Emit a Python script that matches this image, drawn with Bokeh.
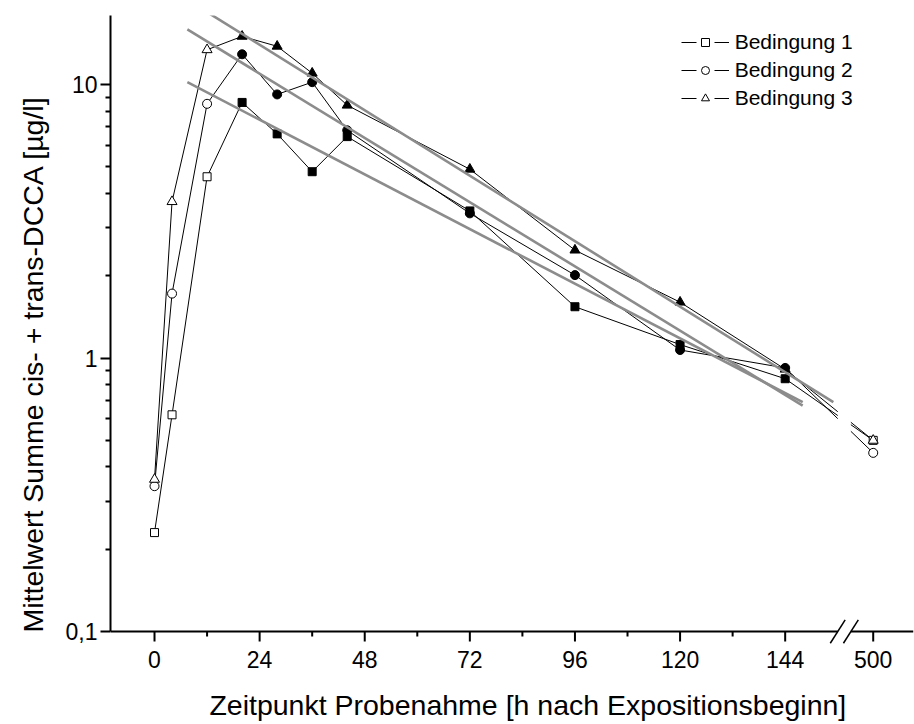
import numpy as np
from bokeh.plotting import figure
from bokeh.models import Range1d, FixedTicker, Legend, LegendItem, Title, ColumnDataSource
from bokeh.embed import file_html
from bokeh.resources import INLINE

FONT = "Liberation Sans"

# ---------------- data ----------------
hours = [0, 4, 12, 20, 28, 36, 44, 72, 96, 120, 144, 500]
cond1 = [0.23, 0.62, 4.6, 8.6, 6.6, 4.8, 6.45, 3.45, 1.54, 1.12, 0.84, 0.50]
cond2 = [0.34, 1.72, 8.5, 12.9, 9.2, 10.2, 6.8, 3.38, 2.01, 1.07, 0.92, 0.45]
cond3 = [0.36, 3.73, 13.4, 15.0, 13.8, 11.0, 8.4, 4.9, 2.48, 1.60, 0.91, 0.50]
series_names = ["Bedingung 1", "Bedingung 2", "Bedingung 3"]
series_markers = ["square", "circle", "triangle"]
open_hours = [0, 4, 12, 500]          # hollow markers (not part of the fit)

# regression lines (start / end hour, start / end value)
fit_h0 = [7.5, 7.5, 7.5]
fit_h1 = [148, 148, 155]
fit_v0 = [10.2, 15.9, 20.4]
fit_v1 = [0.69, 0.67, 0.69]

x_major = [0, 24, 48, 72, 96, 120, 144, 500]
x_minor = [12, 36, 60, 84, 108, 132]
y_major = [0.1, 1, 10]
y_major_labels = ["0,1", "1", "10"]
y_minor = [0.2, 0.3, 0.4, 0.5, 0.6, 0.7, 0.8, 0.9, 2, 3, 4, 5, 6, 7, 8, 9]

x_title = "Zeitpunkt Probenahme [h nach Expositionsbeginn]"
y_title = "Mittelwert Summe cis- + trans-DCCA [\u00b5g/l]"

# ---------------- axis break ----------------
LAST_LINEAR_H = 144
POS_AFTER_BREAK = 164.1       # where the 500 h column sits on the broken axis
BREAK_LO, BREAK_HI = 156.0, 159.0
SLASH_DX = 1.7                # half width of a break slash (h units)
SLASH_PX = 11.7               # half height of a break slash (pixels)


def xpos(h):
    return h if h <= LAST_LINEAR_H else POS_AFTER_BREAK


# ---------------- geometry ----------------
W, H = 914, 724
BORDER_L, BORDER_R, BORDER_T, BORDER_B = 110, 1, 15, 79
FRAME_H = H - BORDER_T - BORDER_B
X0, X1 = -10.05, 173.3
Y0, Y1 = 0.0889, 17.88
DEC_PER_PX = np.log10(Y1 / Y0) / FRAME_H
Y_AX = y_major[0]
X_TITLE_PAD = "\u00a0" * 4    # nudges the centred x title to the right


def y_below(px):
    return Y_AX * 10 ** (-px * DEC_PER_PX)


p = figure(width=W, height=H, x_range=Range1d(X0, X1), y_range=Range1d(Y0, Y1),
           y_axis_type="log", output_backend="svg", toolbar_location=None,
           min_border_left=BORDER_L, min_border_right=BORDER_R,
           min_border_top=BORDER_T, min_border_bottom=BORDER_B)
p.outline_line_color = None
p.xgrid.visible = False
p.ygrid.visible = False
p.background_fill_color = "white"
p.border_fill_color = "white"

# ---- y axis ----
ya = p.yaxis[0]
ya.ticker = FixedTicker(ticks=y_major, minor_ticks=y_minor)
ya.major_label_overrides = dict(zip(y_major, y_major_labels))
ya.bounds = (Y_AX, Y1)
ya.axis_line_width = 2
ya.axis_line_color = "black"
ya.major_tick_line_width = 2
ya.minor_tick_line_width = 2
ya.major_tick_line_color = "black"
ya.minor_tick_line_color = "black"
ya.major_tick_out = 10
ya.major_tick_in = 0
ya.minor_tick_out = 5
ya.minor_tick_in = 0
ya.major_label_standoff = 3
ya.major_label_text_font = FONT
ya.major_label_text_font_size = "23px"
ya.major_label_text_color = "black"

# ---- x axis: labels + title from bokeh, line / ticks drawn on the broken axis ----
xa = p.xaxis[0]
xa.ticker = FixedTicker(ticks=[xpos(h) for h in x_major], minor_ticks=[])
xa.major_label_overrides = {xpos(h): str(h) for h in x_major}
xa.axis_line_color = None
xa.major_tick_line_color = None
xa.minor_tick_line_color = None
xa.major_tick_out = 0
xa.major_tick_in = 0
xa.minor_tick_out = 0
xa.minor_tick_in = 0
xa.major_label_standoff = 5
xa.major_label_text_font = FONT
xa.major_label_text_font_size = "23px"
xa.major_label_text_color = "black"
xa.axis_label = X_TITLE_PAD + x_title
xa.axis_label_text_font = FONT
xa.axis_label_text_font_size = "28.5px"
xa.axis_label_text_font_style = "normal"
xa.axis_label_text_color = "black"
xa.axis_label_standoff = 18

# axis line with gap
p.segment(x0=[X0, BREAK_HI], y0=[Y_AX, Y_AX], x1=[BREAK_LO, X1], y1=[Y_AX, Y_AX],
          line_color="black", line_width=2)
# ticks
maj_x = [xpos(h) for h in x_major]
p.segment(x0=maj_x, y0=[Y_AX] * len(maj_x), x1=maj_x, y1=[y_below(10)] * len(maj_x),
          line_color="black", line_width=2)
p.segment(x0=x_minor, y0=[Y_AX] * len(x_minor), x1=x_minor, y1=[y_below(5)] * len(x_minor),
          line_color="black", line_width=2)

# ---- data lines ----
all_series = [cond1, cond2, cond3]
for vals in all_series:
    p.line([xpos(h) for h in hours], vals, line_color="black", line_width=1)

# white gap through the data lines at the axis break
p.quad(left=[BREAK_LO], right=[BREAK_HI], bottom=[y_below(-2)], top=[Y1],
       fill_color="white", line_color=None)
# break slashes
bx = [BREAK_LO, BREAK_HI]
p.segment(x0=[b - SLASH_DX for b in bx], y0=[y_below(SLASH_PX)] * 2,
          x1=[b + SLASH_DX for b in bx], y1=[y_below(-SLASH_PX)] * 2,
          line_color="black", line_width=1.5)

# ---- markers ----
sizes = {"square": 8, "circle": 9, "triangle": 10}


def draw_markers(idx, hollow):
    vals = all_series[idx]
    xs, ys = [], []
    for h, v in zip(hours, vals):
        if (h in open_hours) == hollow:
            xs.append(xpos(h))
            ys.append(v)
    m = series_markers[idx]
    p.scatter(xs, ys, marker=m, size=sizes[m], line_color="black", line_width=1,
              fill_color="white" if hollow else "black")


for i in [2, 0, 1]:
    draw_markers(i, False)
for i in [0, 1, 2]:
    draw_markers(i, True)

# ---- regression lines ----
for a, b, va, vb in zip(fit_h0, fit_h1, fit_v0, fit_v1):
    p.line([a, b], [va, vb], line_color="#8c8c8c", line_width=2.6)

# ---- legend (proxy renderers with a single NaN point, never visible) ----
items = []
for name, m in zip(series_names, series_markers):
    src = ColumnDataSource(data=dict(x=[np.nan], y=[np.nan]))
    lr = p.line("x", "y", source=src, line_color="black", line_width=1, line_dash="15 18")
    mr = p.scatter("x", "y", source=src, marker=m, line_color="black", line_width=1,
                   fill_color="white")
    items.append(LegendItem(label=name, renderers=[lr, mr]))

legend = Legend(items=items, location=(570.7, 534.7), padding=0, margin=0,
                glyph_width=48, glyph_height=20, label_height=23, spacing=4,
                label_standoff=6, label_text_font=FONT, label_text_font_size="21px",
                label_text_color="black", border_line_color=None,
                background_fill_alpha=0)
p.add_layout(legend)

# ---- y title ----
p.add_layout(Title(text=y_title, align="left", offset=13, text_font=FONT,
                   text_font_size="28.5px", text_font_style="normal",
                   text_color="black", standoff=28), "left")

open("out.html", "w").write(file_html(p, INLINE))
